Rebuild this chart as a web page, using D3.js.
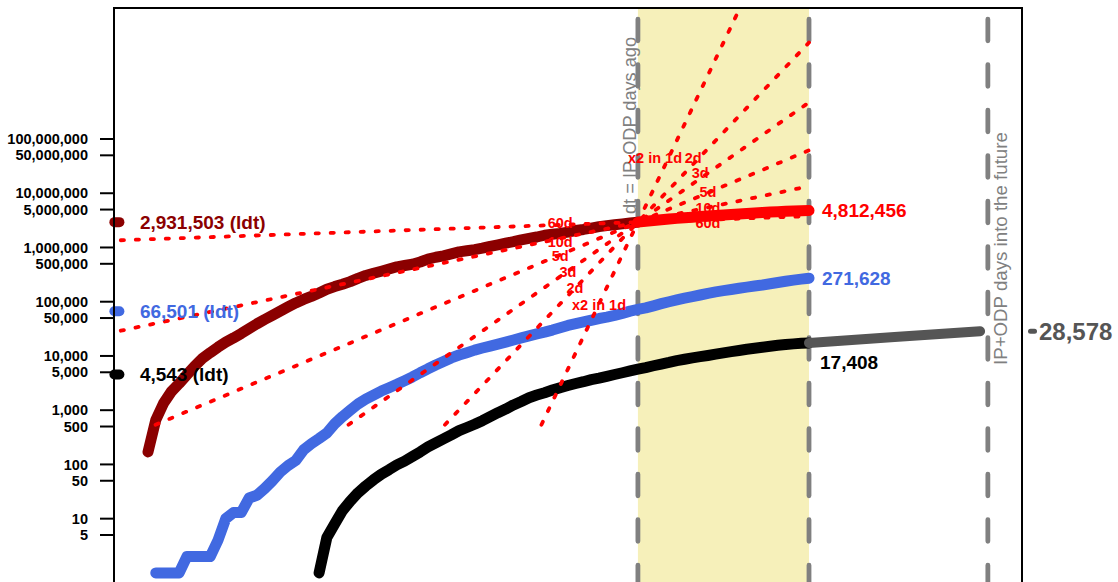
<!DOCTYPE html>
<html><head><meta charset="utf-8">
<script src="https://cdn.jsdelivr.net/npm/d3@7"></script>
<style>html,body{margin:0;padding:0;background:#fff;overflow:hidden}</style>
</head><body><svg id="chart" width="1118" height="582"></svg>
<script>
// ---------------- data ----------------
const casesPastStart = 0;   // day index of first value
const casesPast = [170, 660, 1340, 2200, 3100, 4500, 6500, 9000, 11500, 14500,
  18000, 21500, 26000, 32000, 39000, 47000, 56000, 67000, 80000, 95000,
  110000, 125000, 145000, 170000, 190000, 210000, 235000, 270000, 305000, 335000,
  365000, 400000, 440000, 465000, 490000, 540000, 610000, 660000, 700000, 760000,
  830000, 870000, 910000, 970000, 1050000, 1120000, 1200000, 1280000, 1380000, 1470000,
  1560000, 1680000, 1750000, 1820000, 1920000, 2050000, 2150000, 2280000, 2420000, 2530000,
  2620000, 2720000, 2830000, 2931503];
const casesRecentStart = 63;
const casesRecent = [2931503, 3040000, 3140000, 3240000, 3340000, 3440000, 3530000, 3620000,
  3710000, 3800000, 3890000, 3980000, 4070000, 4160000, 4250000, 4330000, 4410000, 4490000,
  4570000, 4640000, 4700000, 4760000, 4812456];
const blueStart = 1;
const blueSeries = [1, 1, 1, 1, 2, 2, 2, 2, 4, 10, 13, 13,
  24, 27, 36, 50, 72, 95, 118, 185, 240,
  300, 380, 560, 760, 1000, 1300, 1600, 1900, 2250, 2600,
  3000, 3500, 4100, 4900, 5800, 6800, 7900, 9200, 10400, 11500,
  12800, 14000, 15200, 16500, 18000, 19700, 21500, 23500, 25500, 27500,
  30000, 33000, 36500, 39500, 42500, 45500, 49000, 52000, 56000, 61000,
  67000, 72000, 77000, 84000, 92000, 100000, 108000, 116000, 124000, 133000,
  143000, 152000, 160000, 168000, 177000, 186000, 195000, 203000, 214000, 226000,
  238000, 250000, 261000, 271628];
const blackStart = 22;
const blackSeries = [1, 4.5, 8, 14, 21, 30, 40, 52, 66, 80,
  98, 115, 140, 170, 210, 250, 295, 350, 420, 480,
  550, 640, 760, 900, 1050, 1250, 1450, 1700, 1900, 2100,
  2350, 2600, 2850, 3100, 3350, 3650, 3900, 4200, 4550, 4900,
  5300, 5700, 6100, 6600, 7100, 7600, 8200, 8700, 9200, 9700,
  10200, 10800, 11400, 12000, 12600, 13300, 13900, 14500, 15100, 15700,
  16200, 16700, 17100, 17408];
const projDays = [85, 96, 107];
const projValues = [17408, 22300, 28578];

const ldtValues = [2931503, 66501, 4543];
const ldtLabels = ["2,931,503 (ldt)", "66,501 (ldt)", "4,543 (ldt)"];
const lastValues = [4812456, 271628, 17408];
const lastLabels = ["4,812,456", "271,628", "17,408"];
const projEndLabel = "28,578";
const yTicks = [5, 10, 50, 100, 500, 1000, 5000, 10000, 50000, 100000, 500000,
  1000000, 5000000, 10000000, 50000000, 100000000];
const dblTimes = [1, 2, 3, 5, 10, 60];
const dblLabels = ["x2 in 1d", "2d", "3d", "5d", "10d", "60d"];
const pivotDay = 63, lastDay = 85, futureDay = 108, ldtDay = -4;
const vTextLeft = "dt = IP-ODP days ago";
const vTextRight = "IP+ODP days into the future";

// ---------------- layout ----------------
const FONT = "'Liberation Sans', Arial, Helvetica, sans-serif";
const C = {dark: "#8B0000", red: "#FF0000", blue: "#4169E1", black: "#000000",
  proj: "#555555", vline: "#808080", band: "#F6F0BA"};
const box = {l: 114, t: 8, r: 1022, b: 640};

const svg = d3.select("#chart");
const x = d3.scaleLinear().domain([0, lastDay]).range([148, 809]);
const y = d3.scaleLog().domain([1, 1e8]).range([572.9, 139]);

svg.append("defs").append("clipPath").attr("id", "plotclip")
  .append("rect").attr("x", box.l).attr("y", box.t)
  .attr("width", box.r - box.l).attr("height", box.b - box.t);

const plot = svg.append("g").attr("clip-path", "url(#plotclip)");

// band
plot.append("rect").attr("x", x(pivotDay)).attr("y", box.t)
  .attr("width", x(lastDay) - x(pivotDay)).attr("height", box.b - box.t)
  .attr("fill", C.band);

// rotated texts (under dashed lines)
svg.append("text").attr("transform", `translate(636,214) rotate(-90)`)
  .attr("font-family", FONT).attr("font-size", 18.2).attr("fill", C.vline)
  .text(vTextLeft);
svg.append("text").attr("transform", `translate(1007,365) rotate(-90)`)
  .attr("font-family", FONT).attr("font-size", 18.7).attr("fill", C.vline)
  .text(vTextRight);

// dashed verticals
[pivotDay, lastDay, futureDay].forEach(d => {
  plot.append("line").attr("x1", x(d)).attr("x2", x(d))
    .attr("y1", box.t).attr("y2", box.b)
    .attr("stroke", C.vline).attr("stroke-width", 4.8)
    .attr("stroke-linecap", "round")
    .attr("stroke-dasharray", "21.5,24").attr("stroke-dashoffset", 34.25);
});

// series
const toPts = (start, vals) => vals.map((v, i) => ({d: start + i, v}));
const line = d3.line().x(p => x(p.d)).y(p => y(p.v));
function drawSeries(pts, color, w) {
  plot.append("path").attr("d", line(pts)).attr("fill", "none")
    .attr("stroke", color).attr("stroke-width", w)
    .attr("stroke-linecap", "round").attr("stroke-linejoin", "round");
}
drawSeries(toPts(casesPastStart, casesPast), C.dark, 11);
drawSeries(toPts(blueStart, blueSeries), C.blue, 11);
drawSeries(toPts(blackStart, blackSeries), C.black, 11);
drawSeries(projDays.map((d, i) => ({d, v: projValues[i]})), C.proj, 10);
drawSeries(toPts(casesRecentStart, casesRecent), C.red, 11);

// doubling-time guide lines
const piv = ldtValues[0];
const dblVal = (T, d) => piv * Math.pow(2, (d - pivotDay) / T);
dblTimes.forEach(T => {
  const d0 = Math.max(-3.5, pivotDay - T * Math.log2(piv / 540));
  plot.append("path").attr("d", line([{d: d0, v: dblVal(T, d0)}, {d: lastDay, v: dblVal(T, lastDay)}]))
    .attr("fill", "none").attr("stroke", C.red).attr("stroke-width", 3.8)
    .attr("stroke-linecap", "round").attr("stroke-dasharray", "3.2,11.8");
});
const offL = [5, 8.1, 9, 10, 10, 10];
const dyL = [1, 0, 1, 1, 3, -2];
const offR = [2.2, 7.1, 8, 9, 9, 9];
const dyR = [0, 0, 0, -1, 0, 3];
dblTimes.forEach((T, i) => {
  const dl = pivotDay - offL[i];
  svg.append("text").attr("x", x(dl)).attr("y", y(dblVal(T, dl)) + dyL[i]).attr("dy", "0.35em")
    .attr("text-anchor", "middle").attr("font-family", FONT).attr("font-weight", "bold")
    .attr("font-size", 14.5).attr("fill", C.red).text(dblLabels[i]);
  const yr = Math.max(y(dblVal(T, pivotDay + 9)), 158) + dyR[i];
  svg.append("text").attr("x", x(pivotDay + offR[i])).attr("y", yr).attr("dy", "0.35em")
    .attr("text-anchor", "middle").attr("font-family", FONT).attr("font-weight", "bold")
    .attr("font-size", 14.5).attr("fill", C.red).text(dblLabels[i]);
});

// ldt markers + labels
const ldtColors = [C.dark, C.blue, C.black];
ldtValues.forEach((v, i) => {
  svg.append("line").attr("x1", x(ldtDay) - 2.5).attr("x2", x(ldtDay) + 2.5)
    .attr("y1", y(v)).attr("y2", y(v)).attr("stroke", ldtColors[i])
    .attr("stroke-width", 10).attr("stroke-linecap", "round");
  svg.append("text").attr("x", x(ldtDay) + 23).attr("y", y(v)).attr("dy", "0.35em")
    .attr("font-family", FONT).attr("font-weight", "bold").attr("font-size", 19)
    .attr("fill", ldtColors[i]).text(ldtLabels[i]);
});

// end labels
const endColors = [C.red, C.blue, C.black];
lastValues.forEach((v, i) => {
  const below = i === 2;
  svg.append("text").attr("x", x(lastDay) + (below ? 11 : 13))
    .attr("y", y(v) + (below ? 19.5 : 0)).attr("dy", "0.35em")
    .attr("font-family", FONT).attr("font-weight", "bold").attr("font-size", 19)
    .attr("fill", endColors[i]).text(lastLabels[i]);
});

// projection end marker
const pe = projValues[projValues.length - 1];
svg.append("line").attr("x1", 1030.5).attr("x2", 1034.5).attr("y1", y(pe)).attr("y2", y(pe))
  .attr("stroke", C.proj).attr("stroke-width", 5).attr("stroke-linecap", "round");
svg.append("text").attr("x", 1039).attr("y", y(pe)).attr("dy", "0.35em")
  .attr("font-family", FONT).attr("font-weight", "bold").attr("font-size", 24)
  .attr("fill", C.proj).text(projEndLabel);

// y axis ticks
const fmt = d3.format(",");
yTicks.forEach(t => {
  svg.append("line").attr("x1", 100).attr("x2", box.l).attr("y1", y(t)).attr("y2", y(t))
    .attr("stroke", "#000").attr("stroke-width", 2);
  svg.append("text").attr("x", 88).attr("y", y(t)).attr("dy", "0.35em")
    .attr("text-anchor", "end").attr("font-family", FONT).attr("font-weight", "bold")
    .attr("font-size", 14.5).attr("fill", "#000").text(fmt(t));
});

// plot box
svg.append("rect").attr("x", box.l).attr("y", box.t)
  .attr("width", box.r - box.l).attr("height", box.b - box.t)
  .attr("fill", "none").attr("stroke", "#000").attr("stroke-width", 2);
</script></body></html>
